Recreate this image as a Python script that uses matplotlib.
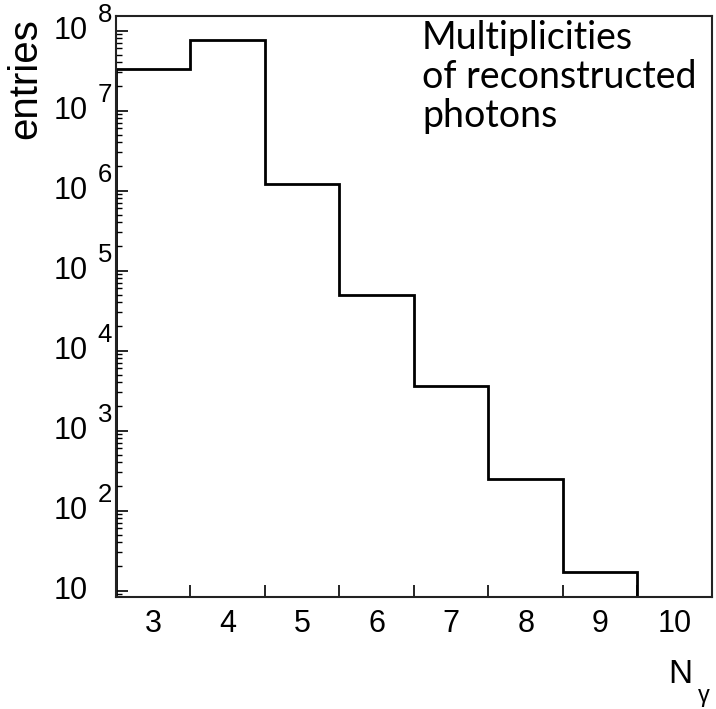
import numpy as np
import matplotlib
matplotlib.use("Agg")
import matplotlib.pyplot as plt
import matplotlib.transforms as mtransforms
from matplotlib.ticker import FixedLocator, FixedFormatter, LogLocator, NullFormatter

# photon multiplicity histogram (entries per N_gamma bin)
N_GAMMA = [3, 4, 5, 6, 7, 8, 9]
ENTRIES = [3.3e7, 7.6e7, 1.2e6, 4.9e4, 3.6e3, 245, 17]
X_LABELS = [3, 4, 5, 6, 7, 8, 9, 10]
DECADES = [1, 2, 3, 4, 5, 6, 7, 8]
X_RANGE = (2.5, 10.5)
Y_RANGE = (8.3, 1.52e8)

ROOT_FONT = "Liberation Sans"
plt.rcParams.update({"font.family": [ROOT_FONT, "DejaVu Sans"]})

fig = plt.figure(figsize=(7.16, 7.09), dpi=100)
ax = fig.add_axes([0.162, 0.158, 0.8324, 0.8194])

edges = np.append(np.array(N_GAMMA) - 0.5, N_GAMMA[-1] + 0.5)
ax.stairs(ENTRIES, edges, baseline=Y_RANGE[0], color="black", lw=2.0)

ax.set_yscale("log")
ax.set_xlim(*X_RANGE)
ax.set_ylim(*Y_RANGE)

for sp in ax.spines.values():
    sp.set_linewidth(1.5)
    sp.set_color("#222222")

# x: ticks on bin edges, labels on bin centres
ax.xaxis.set_major_locator(FixedLocator(edges[1:]))
ax.xaxis.set_major_formatter(NullFormatter())
ax.xaxis.set_minor_locator(FixedLocator(X_LABELS))
ax.xaxis.set_minor_formatter(FixedFormatter([str(v) for v in X_LABELS]))
ax.tick_params(axis="x", which="major", direction="in", length=8.5, width=1.2)
ax.tick_params(axis="x", which="minor", length=0, labelsize=22, pad=9)

# y: ROOT-like log ticks, labels drawn by hand below
ax.yaxis.set_major_locator(LogLocator(base=10, numticks=12))
ax.yaxis.set_minor_locator(LogLocator(base=10, subs=np.arange(2, 10), numticks=12))
ax.yaxis.set_major_formatter(NullFormatter())
ax.yaxis.set_minor_formatter(NullFormatter())
ax.tick_params(axis="y", which="major", direction="in", length=8.5, width=1.2)
ax.tick_params(axis="y", which="minor", direction="in", length=4.3, width=1.0)

trans = mtransforms.blended_transform_factory(ax.transAxes, ax.transData)
for d in DECADES:
    ax.text(-0.048, 10.0 ** d, "10", transform=trans, ha="right", va="center",
            fontsize=22)
    if d > 1:
        ax.annotate(str(d), xy=(-0.031, 10.0 ** d), xycoords=trans,
                    xytext=(0, 11), textcoords="offset points",
                    ha="left", va="center", fontsize=18.5)

fig.text(0.035, 1 - 18 / 709, "entries", rotation=90, ha="center", va="top",
         fontsize=29)
fig.text(668 / 716, 1 - 683 / 709, "N", fontsize=24, va="baseline")
fig.text(698 / 716, 1 - 702 / 709, "\u03b3", fontsize=17, va="baseline")

ax.text(422 / 716, 1 - 20 / 709, "Multiplicities\nof reconstructed\nphotons",
        transform=fig.transFigure, ha="left", va="top", fontsize=27,
        family=["Lato", "DejaVu Sans"], linespacing=1.1)

fig.savefig("out.png", dpi=100)
